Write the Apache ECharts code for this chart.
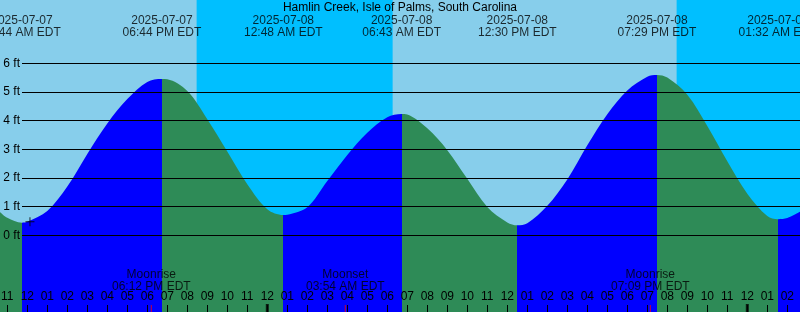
<!DOCTYPE html>
<html><head><meta charset="utf-8">
<script src="https://cdn.jsdelivr.net/npm/echarts@6/dist/echarts.min.js"></script>
<style>html,body{margin:0;padding:0;background:#87CEEB;overflow:hidden}#c{width:800px;height:312px}</style>
</head><body><div id="c"></div>
<script>
// ---------- data ----------
const chartTitle = 'Hamlin Creek, Isle of Palms, South Carolina';
const tideDates  = ['2025-07-07','2025-07-07','2025-07-08','2025-07-08','2025-07-08','2025-07-08','2025-07-09'];
const tideTimes  = ['11:44 AM','06:44 PM','12:48 AM','06:43 AM','12:30 PM','07:29 PM','01:32 AM'];
const tideLevels = [0.44, 5.45, 0.71, 4.23, 0.35, 5.59, 0.56];
const tideKinds  = ['low','high','low','high','low','high','low'];
// tide curve readings: hours after 2025-07-08 00:00 EDT, level in ft
const curveHours  = [-13.37,-13,-12,-11,-10,-9,-8,-7,-6,-5,-4,-3,-2,-1,0,1,2,3,4,5,6,
                     7,8,9,10,11,12,13,14,15,16,17,18,19,20,21,22,23,24,25,26,26.64];
const curveLevels = [0.82,0.61,0.47,0.85,1.70,2.84,3.90,4.75,5.35,5.44,5.03,4.05,2.92,1.78,0.91,0.72,0.98,1.89,2.80,3.58,4.12,
                     4.21,3.73,2.97,1.97,0.99,0.45,0.42,1.03,1.95,3.14,4.22,5.05,5.53,5.50,4.90,3.81,2.58,1.45,0.67,0.60,0.82];
const moonKinds = ['Moonrise','Moonset','Moonrise'];
const moonDates = ['2025-07-07','2025-07-08','2025-07-08'];
const moonTimes = ['06:12 PM','03:54 AM','07:09 PM'];
const nightStartDates = ['2025-07-07','2025-07-08'];
const nightStartTimes = ['08:28 PM','08:28 PM'];
const nightEndDates   = ['2025-07-08', null];
const nightEndTimes   = ['06:16 AM', null];
const midnightDates = ['2025-07-08','2025-07-09'];
const levelTicks = [0,1,2,3,4,5,6];
const nowDate = '2025-07-07', nowTime = '12:08 PM', nowLevel = 0.47;
const hourMin = -14, hourMax = 27;          // x axis range, hours after 2025-07-08 00:00
const levelMin = -2.675, levelMax = 8.207;  // y axis range, ft

// ---------- helpers ----------
const FONT = 'Liberation Sans';
const C_DAY = '#87CEEB', C_NIGHT = '#00BFFF', C_RISE = '#0000FF', C_FALL = '#2E8B57';
function toHours(d, t) {
  const [Y, M, D] = d.split('-').map(Number);
  let h = 0, m = 0;
  if (t) {
    const mm = t.match(/(\d+):(\d+) (AM|PM)/);
    h = (+mm[1]) % 12 + (mm[3] === 'PM' ? 12 : 0);
    m = +mm[2];
  }
  return (Date.UTC(Y, M - 1, D, h, m) - Date.UTC(2025, 6, 8)) / 3600000;
}
const pad = n => String(n).padStart(2, '0');
const tideHours = tideDates.map((d, i) => toHours(d, tideTimes[i]));

// curve = readings + extremes, sorted by time
const curve = curveHours.map((h, i) => [h, curveLevels[i]])
  .concat(tideHours.map((h, i) => [h, tideLevels[i]]))
  .sort((a, b) => a[0] - b[0]);

// rising (after low) blue, falling (after high) green
const pieces = [];
pieces.push({ lt: tideHours[0], color: tideKinds[0] === 'low' ? C_FALL : C_RISE });
for (let i = 0; i < tideHours.length; i++) {
  const p = { gte: tideHours[i], color: tideKinds[i] === 'low' ? C_RISE : C_FALL };
  if (i + 1 < tideHours.length) p.lt = tideHours[i + 1];
  pieces.push(p);
}

const nights = nightStartDates.map((d, i) => [
  { xAxis: toHours(d, nightStartTimes[i]) },
  { xAxis: nightEndDates[i] ? toHours(nightEndDates[i], nightEndTimes[i]) : hourMax }
]);

const txt = { fontFamily: FONT, fontSize: 12, color: '#000' };

const option = {
  backgroundColor: C_DAY,
  animation: false,
  title: { text: chartTitle, left: 'center', top: 2, padding: 0,
    textStyle: Object.assign({ fontWeight: 'normal', lineHeight: 12 }, txt) },
  grid: [
    { left: -12.7, right: -7.3, top: 0, bottom: 0, containLabel: false, outerBoundsMode: 'none' },
    { left: 22, right: 0, top: 0, bottom: 0, containLabel: false, outerBoundsMode: 'none' }
  ],
  xAxis: [
    { type: 'value', gridIndex: 0, min: hourMin, max: hourMax, interval: 1, z: 10,
      axisLine: { show: false, onZero: false }, splitLine: { show: false },
      axisTick: { inside: true, length: 7, lineStyle: { color: '#000', width: 1 } },
      axisLabel: Object.assign({ inside: true, margin: 9, showMinLabel: true, showMaxLabel: true,
        formatter: v => pad((((v % 12) + 12) % 12) || 12) }, txt) },
    { type: 'value', gridIndex: 1, min: 0, max: 1, show: false, axisLine: { onZero: false } }
  ],
  yAxis: [
    { type: 'value', gridIndex: 0, min: levelMin, max: levelMax, show: false },
    { type: 'value', gridIndex: 1, min: levelMin, max: levelMax, show: false }
  ],
  visualMap: { type: 'piecewise', show: false, dimension: 0, seriesIndex: 1, pieces: pieces },
  series: [
    { type: 'line', data: [], z: 1, silent: true,
      markArea: { silent: true, z: 1, itemStyle: { color: C_NIGHT, opacity: 1 }, data: nights } },
    { type: 'line', data: curve, smooth: 0.33, showSymbol: false, silent: true, z: 2,
      lineStyle: { width: 0 }, areaStyle: { opacity: 1, origin: 'start' } },
    { type: 'line', xAxisIndex: 1, yAxisIndex: 1, data: [], silent: true,
      markLine: { silent: true, symbol: 'none', z: 5,
        lineStyle: { color: '#000', width: 1, type: 'solid' },
        label: Object.assign({ position: 'start', distance: 2, formatter: p => p.value + ' ft' }, txt),
        data: levelTicks.map(v => ({ yAxis: v })) } },
    { type: 'scatter', clip: false, silent: true, z: 6, symbolSize: 0,
      data: tideHours.map(h => [h, levelMax]),
      label: Object.assign({ show: true, position: 'bottom', distance: 15, lineHeight: 12,
        formatter: p => tideDates[p.dataIndex] + '\n' + tideTimes[p.dataIndex] + ' EDT' }, txt) },
    { type: 'scatter', clip: false, silent: true, z: 11, symbol: 'rect', symbolSize: [1, 14],
      itemStyle: { color: '#FF0000' },
      data: moonDates.map((d, i) => [toHours(d, moonTimes[i]), levelMin]),
      label: Object.assign({ show: true, position: 'top', distance: 12, lineHeight: 12,
        formatter: p => moonKinds[p.dataIndex] + '\n' + moonTimes[p.dataIndex] + ' EDT' }, txt) },
    { type: 'scatter', clip: false, silent: true, z: 11, symbol: 'rect', symbolSize: [3, 16],
      itemStyle: { color: '#000' },
      data: midnightDates.map(d => [toHours(d, null), levelMin]) },
    { type: 'scatter', clip: false, silent: true, z: 11,
      symbol: 'path://M0,4L9,4L9,5L0,5ZM4,0L5,0L5,9L4,9Z', symbolSize: 9,
      itemStyle: { color: '#000' },
      data: [[toHours(nowDate, nowTime), nowLevel]] }
  ]
};
echarts.init(document.getElementById('c'), null, { renderer: 'canvas' }).setOption(option);
</script>
</body></html>
